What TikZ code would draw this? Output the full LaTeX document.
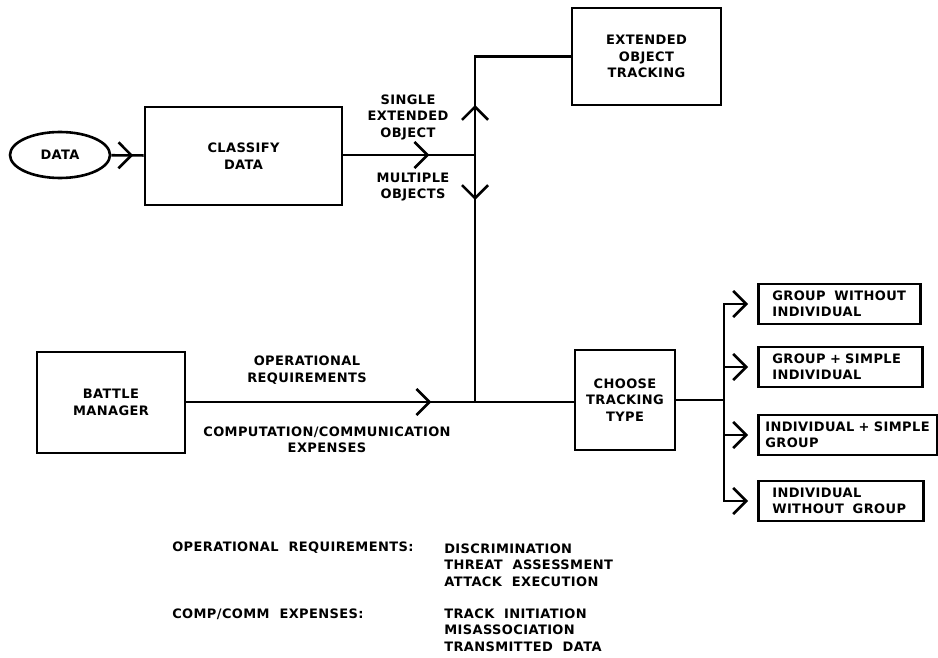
\documentclass[tikz,border=0pt]{standalone}
\usepackage{fontspec}
\setmainfont[LetterSpace=3]{DejaVu Sans}
\usetikzlibrary{arrows.meta, positioning, shapes.geometric, decorations.markings}

\begin{document}
\begin{tikzpicture}[x=1pt, y=-1pt, line width=2.6pt,
      font=\bfseries\fontsize{13}{16.5}\selectfont,
      box/.style={draw, rectangle, align=center, inner sep=0pt},
      optbox/.style={draw, rectangle, anchor=west, align=left, inner xsep=14pt,
                     minimum height=40pt},
      lbl/.style={align=center, inner sep=0pt},
      chevron/.style={-{Straight Barb[length=13pt, width=26pt]}},
      midarrow/.style={postaction={decorate}, decoration={markings,
                  mark=at position #1 with {\arrow{Straight Barb[length=13pt, width=26pt]}}}}]
    \useasboundingbox (0,0) rectangle (938,658);
    % blocks
    \node[draw, ellipse, minimum width=100pt, minimum height=46pt] (data) at (60,155) {DATA};
    \node[box, minimum width=197pt, minimum height=98pt] (classify) at (243.5,156) {CLASSIFY\\DATA};
    \node[box, minimum width=149pt, minimum height=97pt] (eot) at (646.5,56.5) {EXTENDED\\OBJECT\\TRACKING};
    \node[box, minimum width=148pt, minimum height=101pt] (battle) at (111,402.5) {BATTLE\\MANAGER};
    \node[box, minimum width=100pt, minimum height=100pt] (choose) at (625,400) {CHOOSE\\TRACKING\\TYPE};
    \node[optbox, text width=134pt] (g1) at (757,304) {GROUP\ \ WITHOUT\\INDIVIDUAL};
    \node[optbox, text width=136pt] (g2) at (757,367) {GROUP + SIMPLE\\INDIVIDUAL};
    \node[optbox, text width=165pt, inner xsep=7pt] (g3) at (757,435) {INDIVIDUAL + SIMPLE\\GROUP};
    \node[optbox, text width=137pt] (g4) at (757,501) {INDIVIDUAL\\WITHOUT\ \ GROUP};
    \coordinate (split) at (475,155);
    \coordinate (merge) at (475,402);
    \coordinate (bus) at (724,400);
    % connectors
    \draw[midarrow=22pt] (data) -- (classify);
    \draw[midarrow=86pt] (classify.east |- split) -- (split);
    \draw[midarrow=50pt] (split) |- (eot.west);
    \draw[midarrow=45pt] (split) -- (merge);
    \draw[midarrow=245pt] (battle.east |- merge) -- (merge) -- (choose.west |- merge);
    \draw (choose.east) -- (bus);
    \foreach \g in {g1,g2,g3,g4}
      \draw[chevron] (bus) |- ([xshift=-9pt]\g.west);
    % labels
    \node[lbl] (single) at (408,117) {SINGLE\\EXTENDED\\OBJECT};
    \node[lbl] (multi) at (413,187) {MULTIPLE\\OBJECTS};
    \node[lbl] (opreq) at (307,370) {OPERATIONAL\\REQUIREMENTS};
    \node[lbl] (compcomm) at (327,440) {COMPUTATION/COMMUNICATION\\EXPENSES};
    % legend
    \node[lbl, anchor=west] (oplegend) at (171,548) {OPERATIONAL\ \ REQUIREMENTS:};
    \node[lbl, anchor=west, align=left] (oplist) at (443,565) {DISCRIMINATION\\THREAT\ \ ASSESSMENT\\ATTACK\ \ EXECUTION};
    \node[lbl, anchor=west] (cclegend) at (171,614) {COMP/COMM\ \ EXPENSES:};
    \node[lbl, anchor=west, align=left] (cclist) at (443,630) {TRACK\ \ INITIATION\\MISASSOCIATION\\TRANSMITTED\ \ DATA};
  \end{tikzpicture}
\end{document}
